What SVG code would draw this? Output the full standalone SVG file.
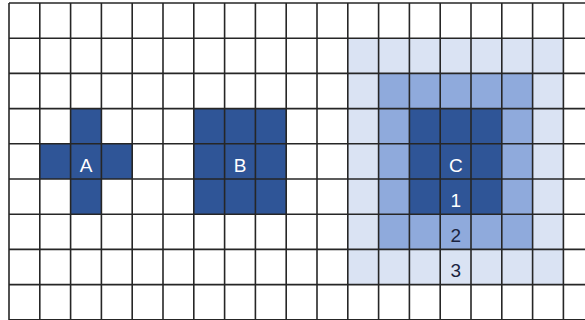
<svg xmlns="http://www.w3.org/2000/svg" width="585" height="320" viewBox="0 0 585 320">
  <style>
    .dark { fill: #2F5597; }
    .mid { fill: #8FAADC; }
    .light { fill: #DAE3F3; }
    .grid line { stroke: #262626; stroke-width: 1.6; }
    .lbl { font-family: "Liberation Sans", Arial, sans-serif; font-size: 19px; text-anchor: middle; }
    .w { fill: #FFFFFF; }
    .k { fill: #1B2440; }
  </style>
  <rect x="0" y="0" width="585" height="320" fill="#FFFFFF"/>
  <g id="A">
    <rect class="dark" x="39.8" y="143.8" width="92.4" height="35.2"/>
    <rect class="dark" x="70.6" y="108.6" width="30.8" height="105.6"/>
  </g>
  <g id="B">
    <rect class="dark" x="193.8" y="108.6" width="92.4" height="105.6"/>
  </g>
  <g id="C">
    <rect class="light" x="347.8" y="38.2" width="215.6" height="246.4"/>
    <rect class="mid" x="378.6" y="73.4" width="154" height="176"/>
    <rect class="dark" x="409.4" y="108.6" width="92.4" height="105.6"/>
  </g>
  <g class="grid">
    <line x1="9" y1="3" x2="9" y2="320"/>
    <line x1="39.8" y1="3" x2="39.8" y2="320"/>
    <line x1="70.6" y1="3" x2="70.6" y2="320"/>
    <line x1="101.4" y1="3" x2="101.4" y2="320"/>
    <line x1="132.2" y1="3" x2="132.2" y2="320"/>
    <line x1="163" y1="3" x2="163" y2="320"/>
    <line x1="193.8" y1="3" x2="193.8" y2="320"/>
    <line x1="224.6" y1="3" x2="224.6" y2="320"/>
    <line x1="255.4" y1="3" x2="255.4" y2="320"/>
    <line x1="286.2" y1="3" x2="286.2" y2="320"/>
    <line x1="317" y1="3" x2="317" y2="320"/>
    <line x1="347.8" y1="3" x2="347.8" y2="320"/>
    <line x1="378.6" y1="3" x2="378.6" y2="320"/>
    <line x1="409.4" y1="3" x2="409.4" y2="320"/>
    <line x1="440.2" y1="3" x2="440.2" y2="320"/>
    <line x1="471" y1="3" x2="471" y2="320"/>
    <line x1="501.8" y1="3" x2="501.8" y2="320"/>
    <line x1="532.6" y1="3" x2="532.6" y2="320"/>
    <line x1="563.4" y1="3" x2="563.4" y2="320"/>
    <line x1="9" y1="3" x2="585" y2="3"/>
    <line x1="9" y1="38.2" x2="585" y2="38.2"/>
    <line x1="9" y1="73.4" x2="585" y2="73.4"/>
    <line x1="9" y1="108.6" x2="585" y2="108.6"/>
    <line x1="9" y1="143.8" x2="585" y2="143.8"/>
    <line x1="9" y1="179" x2="585" y2="179"/>
    <line x1="9" y1="214.2" x2="585" y2="214.2"/>
    <line x1="9" y1="249.4" x2="585" y2="249.4"/>
    <line x1="9" y1="284.6" x2="585" y2="284.6"/>
    <line x1="9" y1="319.8" x2="585" y2="319.8"/>
  </g>
  <g id="labels">
    <text class="lbl w" x="86.2" y="171.5">A</text>
    <text class="lbl w" x="240" y="171.5">B</text>
    <text class="lbl w" x="455.8" y="171.5">C</text>
    <text class="lbl w" x="455.8" y="207">1</text>
    <text class="lbl k" x="455.8" y="242">2</text>
    <text class="lbl k" x="455.8" y="277.3">3</text>
  </g>
</svg>
